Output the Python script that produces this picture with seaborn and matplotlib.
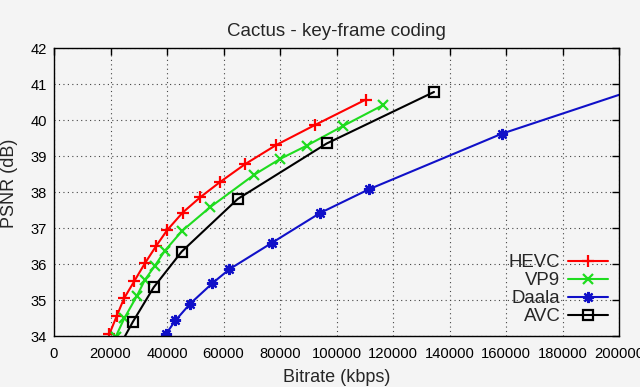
import matplotlib
matplotlib.use("Agg")
import matplotlib.pyplot as plt
import seaborn as sns
import pandas as pd

# ---- data ----
series_names = ["HEVC", "VP9", "Daala", "AVC"]

hevc_rate = [19550, 22190, 24780, 28420, 32210, 36200, 40000, 45500, 51800, 58760, 67700, 78700, 92300, 110400]
hevc_psnr = [34.05, 34.56, 35.05, 35.53, 36.03, 36.51, 36.94, 37.43, 37.86, 38.28, 38.78, 39.31, 39.86, 40.57]

vp9_rate = [21800, 24890, 29270, 32210, 35750, 39290, 45400, 55220, 70800, 80000, 89450, 102410, 116570]
vp9_psnr = [33.98, 34.50, 35.11, 35.57, 35.96, 36.38, 36.93, 37.58, 38.48, 38.92, 39.29, 39.84, 40.42]

daala_rate = [39600, 43000, 48140, 56040, 62060, 77270, 94160, 111500, 158480, 225000]
daala_psnr = [34.06, 34.44, 34.90, 35.47, 35.86, 36.60, 37.42, 38.08, 39.62, 41.35]

avc_rate = [22300, 27900, 35300, 45200, 65020, 96530, 134510]
avc_psnr = [33.60, 34.40, 35.36, 36.35, 37.81, 39.35, 40.78]

x_ticks = list(range(0, 200001, 20000))
y_ticks = list(range(34, 43))

rates = [hevc_rate, vp9_rate, daala_rate, avc_rate]
psnrs = [hevc_psnr, vp9_psnr, daala_psnr, avc_psnr]

rows = []
for name, r, p in zip(series_names, rates, psnrs):
    for i, (a, b) in enumerate(zip(r, p)):
        rows.append({"codec": name, "rate": a, "psnr": b, "idx": i})
df = pd.DataFrame(rows)

# ---- style ----
sns.set_style("white")
plt.rcParams["font.family"] = ["Liberation Sans", "DejaVu Sans"]

bg = "#f4f4f4"
palette = {"HEVC": "#ff0000", "VP9": "#1fdc1f", "Daala": "#1010c8", "AVC": "#000000"}
markers = {"HEVC": "+", "VP9": "x", "Daala": (8, 2, 0), "AVC": "s"}
msizes = {"HEVC": 8, "VP9": 7.5, "Daala": 8, "AVC": 6.5}

fig = plt.figure(figsize=(6.4, 3.87), dpi=100, facecolor=bg)
ax = fig.add_axes([54 / 640, 1 - 336.3 / 387, (619 - 54) / 640, (336.3 - 48) / 387])
ax.set_facecolor(bg)

for name in series_names:
    sub = df[df["codec"] == name]
    sns.lineplot(data=sub, x="rate", y="psnr", sort=False, ax=ax, label=name,
                 color=palette[name], marker=markers[name], markersize=msizes[name],
                 markeredgewidth=1.6, linewidth=1.5,
                 markerfacecolor="none" if name == "AVC" else palette[name],
                 markeredgecolor=palette[name], estimator=None)

ax.set_xlim(0, 200000)
ax.set_ylim(34, 42)
ax.set_xticks(x_ticks)
ax.set_yticks(y_ticks)
ax.set_xticklabels([str(v) for v in x_ticks])
ax.set_yticklabels([str(v) for v in y_ticks])

ax.grid(True, color="#444444", linestyle=(0, (1, 3)), linewidth=0.8)
ax.tick_params(direction="in", length=5, width=1, top=True, right=True,
               labelsize=10.6, colors="black")
ax.tick_params(axis="x", pad=8)
ax.tick_params(axis="y", pad=5)
for s in ax.spines.values():
    s.set_visible(True)
    s.set_color("black")
    s.set_linewidth(1.0)

ax.set_xlabel("Bitrate (kbps)", fontsize=13)
ax.set_ylabel("PSNR (dB)", fontsize=13)
ax.xaxis.set_label_coords(0.5, -0.113)
ax.yaxis.set_label_coords(-0.064, 0.53)
ax.set_title("Cactus - key-frame coding", fontsize=13.5, pad=9)

h, l = ax.get_legend_handles_labels()
ax.legend(h, l, loc="lower right", frameon=False, markerfirst=False,
          fontsize=13.4, handlelength=2.15, handletextpad=0.4,
          labelspacing=0.05, borderpad=0.0, borderaxespad=0.6)

fig.savefig("out.png", dpi=100, facecolor=bg)
